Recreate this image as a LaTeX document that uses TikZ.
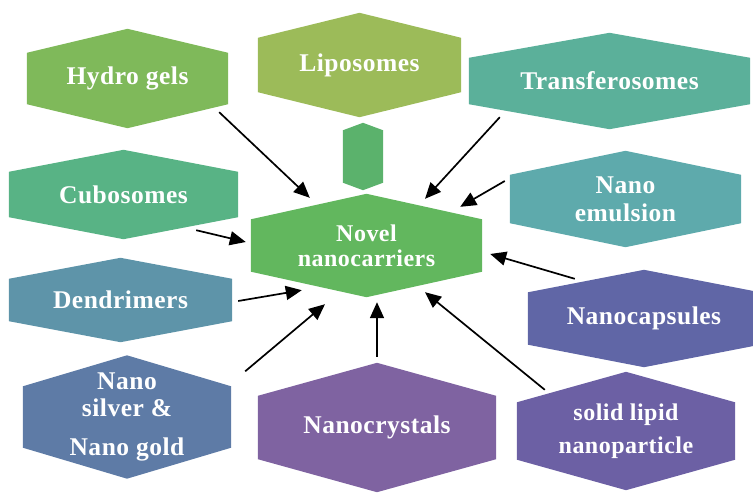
\documentclass[tikz,border=0pt]{standalone}
\usepackage{fontspec}
\setmainfont{Liberation Serif}[LetterSpace=2]
\usetikzlibrary{arrows.meta, backgrounds}
\definecolor{hydroC}{HTML}{7FB95A}
\definecolor{lipoC}{HTML}{9CBB59}
\definecolor{miniC}{HTML}{5BB26C}
\definecolor{cuboC}{HTML}{58B385}
\definecolor{novelC}{HTML}{62B75E}
\definecolor{transC}{HTML}{5BB09A}
\definecolor{emulC}{HTML}{5EAAAC}
\definecolor{dendC}{HTML}{5E94A9}
\definecolor{silverC}{HTML}{5E7BA6}
\definecolor{crystC}{HTML}{7F63A1}
\definecolor{capsC}{HTML}{6066A6}
\definecolor{solidC}{HTML}{6C60A4}

\begin{document}
\begin{tikzpicture}[x=1pt, y=1pt,
    font=\bfseries\fontsize{25.5}{28}\selectfont,
    hbox/.style={inner sep=0pt, align=center, text=white},
    arr/.style={-{Triangle[length=16pt, width=14pt]}, line width=1.7pt}]
  \useasboundingbox (0,0) rectangle (753,-493);
  \node[hbox, minimum width=201pt, minimum height=99pt] (hydro) at (127.5,-78.5) {Hydro gels};
  \node[hbox, minimum width=203pt, minimum height=104pt] (lipo) at (359.5,-65) {Liposomes};
  \node[hbox, minimum width=40pt, minimum height=67pt] (mini) at (363,-156.5) {};
  \node[hbox, minimum width=229pt, minimum height=89pt] (cubo) at (123.5,-194.5) {Cubosomes};
  \node[hbox, minimum width=231pt, minimum height=103pt,
    font=\bfseries\fontsize{24}{25}\selectfont] (novel) at (366.5,-245.5) {Novel\\nanocarriers};
  \node[hbox, minimum width=281pt, minimum height=96pt] (trans) at (609.5,-81) {Transferosomes};
  \node[hbox, minimum width=231pt, minimum height=96pt] (emul) at (625.5,-199) {Nano\\emulsion};
  \node[hbox, minimum width=223pt, minimum height=84pt] (dend) at (120.5,-300) {Dendrimers};
  \node[hbox, minimum width=208pt, minimum height=123pt,
    font=\bfseries\fontsize{25.5}{27}\selectfont] (silver) at (127,-417) {Nano\\silver \&\\[12pt]Nano gold};
  \node[hbox, minimum width=238pt, minimum height=129pt] (cryst) at (377,-427.5) {Nanocrystals};
  \node[hbox, minimum width=232pt, minimum height=97pt] (caps) at (644,-318.5) {Nanocapsules};
  \node[hbox, minimum width=218pt, minimum height=118pt,
    font=\bfseries\fontsize{24}{33}\selectfont] (solid) at (626,-431) {solid lipid\\nanoparticle};

  \begin{scope}[on background layer]
    \foreach \n/\p/\c in {hydro/24/hydroC, lipo/25/lipoC, mini/7.5/miniC, cubo/22/cuboC,
        novel/25.5/novelC, trans/25/transC, emul/24/emulC, dend/21/dendC,
        silver/31/silverC, cryst/33/crystC, caps/22.5/capsC, solid/30.5/solidC}
      \fill[\c] (\n.north) -- ([yshift=-\p]\n.north east) -- ([yshift=\p]\n.south east)
        -- (\n.south) -- ([yshift=\p]\n.south west) -- ([yshift=-\p]\n.north west) -- cycle;
  \end{scope}

  \draw[arr] ([shift={(-9,16)}]hydro.south east) -- ([shift={(59,-4)}]novel.north west);
  \draw[arr] ([shift={(-42,9)}]cubo.south east) -- ([shift={(-5,3.5)}]novel.west);
  \draw[arr] ([shift={(31,12)}]trans.south west) -- ([shift={(58.5,-5)}]novel.north);
  \draw[arr] ([shift={(-5,18)}]emul.west) -- ([shift={(-22,-13)}]novel.north east);
  \draw[arr] ([shift={(6,-1)}]dend.east) -- ([shift={(51,7)}]novel.south west);
  \draw[arr] ([shift={(14,-16)}]silver.north east) -- ([shift={(-41.5,-7)}]novel.south);
  \draw[arr] ([shift={(0,6)}]cryst.north) -- ([shift={(10.5,-5)}]novel.south);
  \draw[arr] ([shift={(47,-9)}]caps.north west) -- ([shift={(8,-8.5)}]novel.east);
  \draw[arr] ([shift={(28,-18)}]solid.north west) -- ([shift={(58.5,5)}]novel.south);
\end{tikzpicture}
\end{document}
